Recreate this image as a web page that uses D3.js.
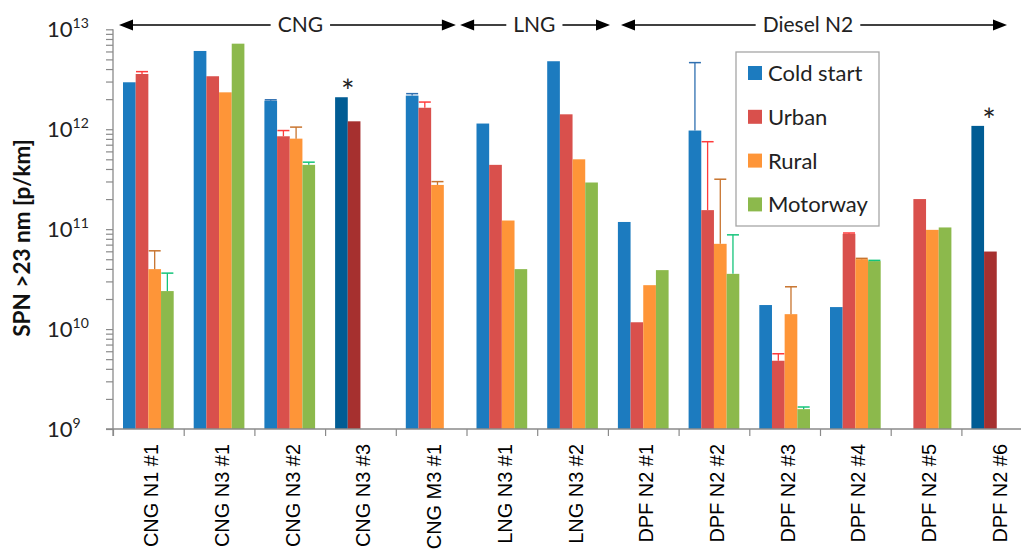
<!DOCTYPE html>
<html>
<head>
<meta charset="utf-8">
<script src="https://cdn.jsdelivr.net/npm/d3@7"></script>
<style>
  body { margin: 0; background: #fff; }
  svg { display: block; }
</style>
</head>
<body>
<svg id="chart" width="1021" height="552"></svg>
<script>
// categories along the x axis
var categories = ["CNG N1 #1", "CNG N3 #1", "CNG N3 #2", "CNG N3 #3", "CNG M3 #1",
  "LNG N3 #1", "LNG N3 #2", "DPF N2 #1", "DPF N2 #2", "DPF N2 #3", "DPF N2 #4",
  "DPF N2 #5", "DPF N2 #6"];

var seriesNames = ["Cold start", "Urban", "Rural", "Motorway"];

// SPN >23 nm [p/km], null = no bar
var coldStart = [2.95e12, 6.07e12, 1.93e12, 2.09e12, 2.17e12, 1.14e12, 4.79e12, 1.18e11, 9.7e11, 1.74e10, 1.66e10, null, 1.08e12];
var urban     = [3.57e12, 3.39e12, 8.5e11, 1.2e12, 1.64e12, 4.4e11, 1.41e12, 1.17e10, 1.55e11, 4.82e9, 8.98e10, 2.0e11, 5.97e10];
var rural     = [3.98e10, 2.34e12, 8.05e11, null, 2.77e11, 1.22e11, 5.0e11, 2.75e10, 7.13e10, 1.41e10, 5.01e10, 9.84e10, null];
var motorway  = [2.4e10, 7.18e12, 4.4e11, null, null, 3.98e10, 2.93e11, 3.89e10, 3.57e10, 1.58e9, 4.79e10, 1.04e11, null];

// top of the error bars, null = none
var coldStartErr = [null, null, 1.97e12, null, 2.27e12, null, null, null, 4.64e12, null, null, null, null];
var urbanErr     = [3.77e12, null, 9.7e11, null, 1.87e12, null, null, null, 7.5e11, 5.66e9, 9.15e10, null, null];
var ruralErr     = [6.07e10, null, 1.05e12, null, 2.99e11, null, null, null, 3.16e11, 2.65e10, 5.1e10, null, null];
var motorwayErr  = [3.63e10, null, 4.68e11, null, null, null, null, null, 8.77e10, 1.66e9, 4.87e10, null, null];

// vehicles marked with an asterisk (drawn in darker colours)
var starred = ["CNG N3 #3", "DPF N2 #6"];

// fuel groups shown with arrows above the bars, in category units
var groupNames = ["CNG", "LNG", "Diesel N2"];
var groupFrom  = [0.085, 4.91, 7.185];
var groupTo    = [4.85, 7.03, 12.645];
var groupLabel = [2.65, 5.96, 9.83];

var yTickPowers = [9, 10, 11, 12, 13];

var colors = ["#1c7bbf", "#d9504c", "#fe9538", "#8cb94c"];
var darkColors = ["#005c94", "#a6302f", "#fe9538", "#8cb94c"];
var errColors = ["#2f6fb0", "#ff3b3b", "#c8742e", "#14c47a"];

var values = [coldStart, urban, rural, motorway];
var errors = [coldStartErr, urbanErr, ruralErr, motorwayErr];

var svg = d3.select("#chart");

var x0 = 113, x1 = 113 + 13 * 70.7;
var x = d3.scaleBand().domain(categories).range([x0, x1]);
var xi = d3.scaleLinear().domain([0, categories.length]).range([x0, x1]);
var xs = d3.scaleBand().domain(seriesNames).range([10, 60.7]);
var y = d3.scaleLog().domain([1e9, 1e13]).range([429, 29.3]);

// y axis with minor ticks
var yTicks = [];
for (var p = 9; p < 13; p++) {
  for (var m = 1; m < 10; m++) yTicks.push(m * Math.pow(10, p));
}
yTicks.push(1e13);

var yAxis = svg.append("g")
  .attr("transform", "translate(" + x0 + ",0)")
  .call(d3.axisLeft(y).tickValues(yTicks).tickSize(7).tickFormat(""));
yAxis.select(".domain").attr("stroke", "#8a8a8a").attr("stroke-width", 1.3).attr("d", "M0,29.3V436");
yAxis.selectAll(".tick line").attr("stroke", "#8a8a8a").attr("stroke-width", 1.2);

var yLab = svg.append("g");
yTickPowers.forEach(function(pw) {
  var t = yLab.append("text")
    .attr("x", 47)
    .attr("y", y(Math.pow(10, pw)) + 8)
    .attr("font-family", "Lato, sans-serif")
    .attr("font-size", 22)
    .attr("fill", "#222");
  t.append("tspan").text("10");
  t.append("tspan").attr("font-size", 14).attr("dy", -9).text(pw);
});

svg.append("text")
  .attr("transform", "translate(30," + 238 + ") rotate(-90)")
  .attr("text-anchor", "middle")
  .attr("font-family", "Lato, sans-serif")
  .attr("font-weight", "bold")
  .attr("font-size", 22.5)
  .attr("fill", "#111")
  .text("SPN >23 nm [p/km]");

// bars
var bars = svg.append("g");
values.forEach(function(vals, s) {
  categories.forEach(function(c, i) {
    var v = vals[i];
    if (v == null) return;
    var isStar = starred.indexOf(c) >= 0;
    bars.append("rect")
      .attr("x", x(c) + xs(seriesNames[s]))
      .attr("width", xs.bandwidth())
      .attr("y", y(v))
      .attr("height", y(1e9) - y(v))
      .attr("fill", isStar ? darkColors[s] : colors[s]);
  });
});

// error bars
var errG = svg.append("g");
errors.forEach(function(errs, s) {
  categories.forEach(function(c, i) {
    var e = errs[i];
    if (e == null) return;
    var cx = x(c) + xs(seriesNames[s]) + xs.bandwidth() / 2;
    errG.append("line")
      .attr("x1", cx).attr("x2", cx)
      .attr("y1", y(values[s][i])).attr("y2", y(e))
      .attr("stroke", errColors[s]).attr("stroke-width", 1.3);
    errG.append("line")
      .attr("x1", cx - 6).attr("x2", cx + 6)
      .attr("y1", y(e)).attr("y2", y(e))
      .attr("stroke", errColors[s]).attr("stroke-width", 1.5);
  });
});

// asterisks
starred.forEach(function(c) {
  var i = categories.indexOf(c);
  svg.append("text")
    .attr("x", x(c) + xs(seriesNames[1]) + (c === "DPF N2 #6" ? 5 : 0))
    .attr("y", y(coldStart[i]) + 6)
    .attr("text-anchor", "middle")
    .attr("font-family", "Lato, sans-serif")
    .attr("font-size", 32)
    .attr("fill", "#222")
    .text("*");
});

// x axis
var xAxis = svg.append("g")
  .attr("transform", "translate(0,429)")
  .call(d3.axisBottom(xi).tickValues(d3.range(categories.length + 1)).tickSize(7).tickFormat(""));
xAxis.select(".domain").attr("stroke", "#8a8a8a").attr("stroke-width", 1.3).attr("d", "M" + (x0 - 7) + ",0H" + x1);
xAxis.selectAll(".tick line").attr("stroke", "#8a8a8a").attr("stroke-width", 1.2);

svg.append("g").selectAll("text")
  .data(categories)
  .join("text")
  .attr("transform", function(d) {
    return "translate(" + (x(d) + x.bandwidth() / 2 + 10) + ",444) rotate(-90) scale(0.95,1)";
  })
  .attr("text-anchor", "end")
  .attr("font-family", "Liberation Sans, Arial, sans-serif")
  .attr("font-size", 21)
  .attr("fill", "#000")
  .text(function(d) { return d; });

// group arrows
var arrowY = 25;
var ag = svg.append("g");
groupNames.forEach(function(g, k) {
  var a = xi(groupFrom[k]), b = xi(groupTo[k]), tx = xi(groupLabel[k]);
  var t = ag.append("text")
    .attr("x", tx).attr("y", arrowY + 7)
    .attr("text-anchor", "middle")
    .attr("font-family", "Lato, sans-serif")
    .attr("font-size", 21)
    .attr("fill", "#222")
    .text(g);
  var bb = t.node().getBBox();
  ag.append("line").attr("x1", a + 10).attr("x2", bb.x - 7)
    .attr("y1", arrowY).attr("y2", arrowY).attr("stroke", "#000").attr("stroke-width", 1.6);
  ag.append("line").attr("x1", bb.x + bb.width + 7).attr("x2", b - 10)
    .attr("y1", arrowY).attr("y2", arrowY).attr("stroke", "#000").attr("stroke-width", 1.6);
  ag.append("path").attr("d", "M" + a + "," + arrowY + "l14,-5.5v11z").attr("fill", "#000");
  ag.append("path").attr("d", "M" + b + "," + arrowY + "l-14,-5.5v11z").attr("fill", "#000");
});

// legend
var lg = svg.append("g").attr("transform", "translate(736,52)");
lg.append("rect").attr("width", 143).attr("height", 174)
  .attr("fill", "#fff").attr("stroke", "#a6a6a6").attr("stroke-width", 1.3);
seriesNames.forEach(function(n, s) {
  var cy = 21 + s * 43.8;
  lg.append("rect").attr("x", 12).attr("y", cy - 7).attr("width", 14).attr("height", 14).attr("fill", colors[s]);
  lg.append("text").attr("x", 32).attr("y", cy + 8)
    .attr("font-family", "Lato, sans-serif")
    .attr("font-size", 22)
    .attr("fill", "#222")
    .text(n);
});
</script>
</body>
</html>
